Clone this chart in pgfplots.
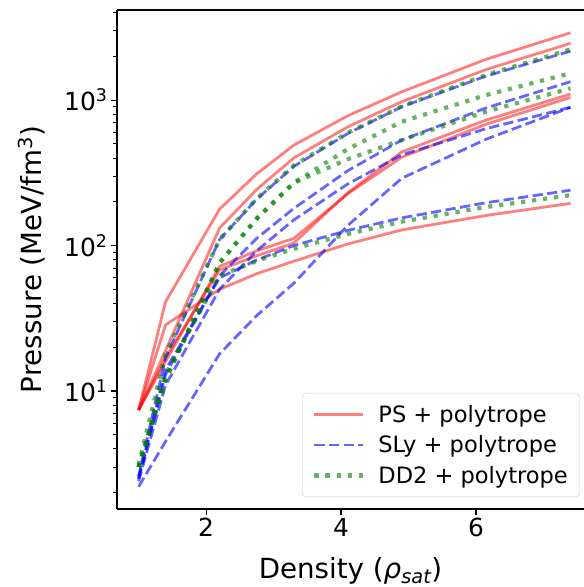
\documentclass[border=0pt]{standalone}
\usepackage{fontspec}
\setmainfont{DejaVu Sans}
\usepackage{pgfplots}
\pgfplotsset{compat=1.18}
\definecolor{mplgreen}{RGB}{0,128,0}

\tikzset{
  ps/.style={red, opacity=0.5, line width=2.78bp, line join=round},
  sly/.style={blue, opacity=0.6, line width=2.78bp, line join=round, dash pattern=on 10.3bp off 4.4bp},
  dd/.style={mplgreen, opacity=0.6, line width=4.17bp, line join=round, dash pattern=on 4.17bp off 6.9bp},
}

\begin{document}
\begin{tikzpicture}
\begin{axis}[
  name=ax,
  scale only axis, width=467bp, height=499bp,
  xmin=0.68, xmax=7.6,
  ymode=log, ymin=1.545, ymax=4160,
  axis lines=left, axis line style={-, line width=1.1bp},
  tick align=outside,
  major tick length=6bp, minor tick length=3.5bp,
  every tick/.style={black, line width=1.1bp},
  every minor tick/.style={black, line width=0.8bp},
  xtick={2,4,6}, xticklabels={2,4,6}, minor xtick={},
  ytick={10,100,1000},
  yticklabels={10\textsuperscript{1},10\textsuperscript{2},10\textsuperscript{3}},
  minor ytick={2,3,4,5,6,7,8,9,20,30,40,50,60,70,80,90,200,300,400,500,600,700,800,900,2000,3000,4000},
  tick label style={font=\fontsize{25}{30}\selectfont},
  xlabel={Density ({\itshape ρ}\textsubscript{\itshape sat})},
  ylabel={Pressure (MeV/fm\textsuperscript{3})},
  label style={font=\fontsize{27.8}{32}\selectfont},
  xlabel shift=13bp, ylabel shift=12bp,
  clip=false,
  legend style={at={(0.9914,0.024)}, anchor=south east, draw=black!20,
    rounded corners=4bp, font=\fontsize{22.6}{26}\selectfont,
    fill=white, fill opacity=0.8, text opacity=1, draw opacity=1,
    inner xsep=10bp, inner ysep=10bp, row sep=8bp, column sep=11bp},
  legend cell align=left,
  legend image code/.code={\draw[#1] (0bp,0bp) -- (49bp,0bp);},
]
% PS + polytrope
\addplot[ps] coordinates {(1,7.4) (1.4,41) (2.2,178) (2.75,311) (3.3,490) (4.1,780) (4.9,1140) (6.15,1907) (7.4,2900)};
\addlegendentry{PS + polytrope}
\addplot[ps, forget plot] coordinates {(1,7.4) (1.4,19) (2.2,132) (2.75,243) (3.3,400) (4.1,654) (4.9,975) (6.15,1622) (7.4,2455)};
\addplot[ps, forget plot] coordinates {(1,7.4) (1.4,17) (2.2,68) (2.75,85) (3.3,104) (4.1,230) (4.9,440) (6.15,729) (7.4,1100)};
\addplot[ps, forget plot] coordinates {(1,7.4) (1.4,16) (2.2,72) (2.75,92) (3.3,112) (4.1,227) (4.9,405) (6.15,682) (7.4,1043)};
\addplot[ps, forget plot] coordinates {(1,7.4) (1.4,28.5) (2.2,50) (2.75,64) (3.3,78) (4.1,102.5) (4.9,128) (6.15,161) (7.4,195)};
% SLy + polytrope
\addplot[sly] coordinates {(1,2.6) (1.4,17) (2.2,110) (2.75,208) (3.3,350) (4.1,589) (4.9,900) (6.15,1462) (7.4,2170)};
\addlegendentry{SLy + polytrope}
\addplot[sly, forget plot] coordinates {(1,2.5) (1.4,13) (2.2,62) (2.75,112) (3.3,180) (4.1,327) (4.9,531) (6.15,883) (7.4,1337)};
\addplot[sly, forget plot] coordinates {(1,2.4) (1.4,11) (2.2,50) (2.75,92) (3.3,150) (4.1,265) (4.9,420) (6.15,636) (7.4,891)};
\addplot[sly, forget plot] coordinates {(1,2.2) (1.4,4.5) (2.2,18) (2.75,33) (3.3,55) (4.1,137.5) (4.9,290) (6.15,538) (7.4,891)};
\addplot[sly, forget plot] coordinates {(1,2.5) (1.4,14) (2.2,60) (2.75,79.5) (3.3,100) (4.1,127) (4.9,155) (6.15,197) (7.4,240)};
% DD2 + polytrope
\addplot[dd] coordinates {(1,3.1) (1.4,18) (2.2,110) (2.75,210) (3.3,355) (4.1,596) (4.9,905) (6.15,1490) (7.4,2230)};
\addlegendentry{DD2 + polytrope}
\addplot[dd, forget plot] coordinates {(1,3.0) (1.4,12) (2.2,76) (2.75,153) (3.3,270) (4.1,460) (4.9,710) (6.15,1083) (7.4,1528)};
\addplot[dd, forget plot] coordinates {(1,3.0) (1.4,12) (2.2,76) (2.75,153) (3.3,270) (4.1,392) (4.9,531) (6.15,833) (7.4,1203)};
\addplot[dd, forget plot] coordinates {(1,3.0) (1.4,13) (2.2,62) (2.75,78.4) (3.3,95) (4.1,120) (4.9,146) (6.15,184) (7.4,222)};
\draw[line width=1.1bp] (rel axis cs:0,1) -- (rel axis cs:1,1);
\end{axis}
\pgfresetboundingbox
\path[use as bounding box] ([xshift=-117bp,yshift=-78bp]ax.south west) rectangle ([yshift=10bp]ax.north east);
\end{tikzpicture}
\end{document}
